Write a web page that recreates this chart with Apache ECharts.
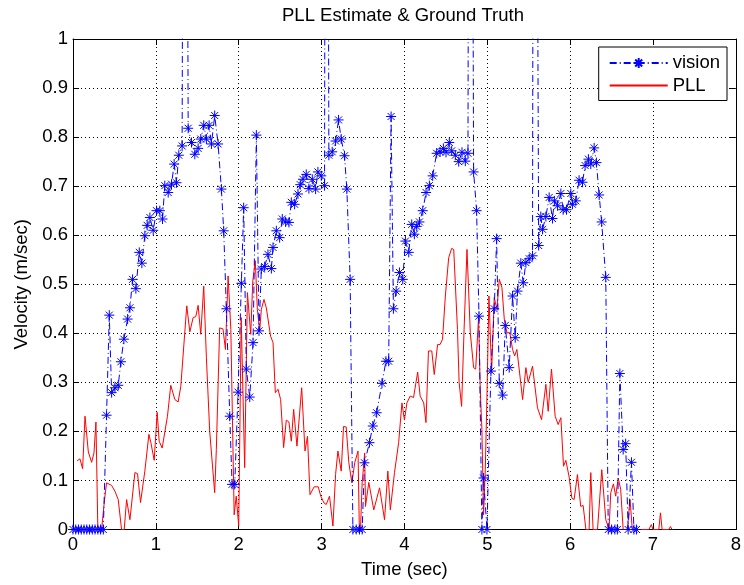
<!DOCTYPE html>
<html>
<head>
<meta charset="utf-8">
<script src="https://cdn.jsdelivr.net/npm/echarts@6/dist/echarts.min.js"></script>
<style>
html,body{margin:0;padding:0;background:#fff;}
#chart{width:744px;height:585px;}
</style>
</head>
<body>
<div id="chart"></div>
<script>
// ---- data ----
const titleText = 'PLL Estimate & Ground Truth';
const xName = 'Time (sec)';
const yName = 'Velocity (m/sec)';
const seriesNames = ['vision', 'PLL'];

// vision (ground truth), time in sec
const visT = [0.00,0.033,0.066,0.10,0.133,0.166,0.20,0.233,0.266,0.30,0.333,0.366,
  0.405,0.438,0.466,0.506,0.546,0.578,0.614,0.659,0.687,0.719,0.759,0.80,0.831,0.867,0.895,0.928,0.968,
  1.008,1.048,1.08,1.108,1.149,1.189,1.221,1.249,1.277,1.317,1.349,1.39,1.43,1.47,1.51,1.542,1.578,1.61,
  1.643,1.671,1.71,1.751,1.791,1.819,1.851,1.892,1.92,1.952,1.992,2.032,2.06,2.092,2.133,2.173,2.213,
  2.245,2.273,2.313,2.353,2.394,2.414,2.454,2.494,2.526,2.566,2.606,2.635,2.675,2.715,2.743,2.775,2.815,
  2.847,2.888,2.928,2.956,2.996,3.036,3.056,3.088,3.128,3.169,3.205,3.237,3.277,3.305,3.345,3.378,3.418,
  3.458,3.49,3.518,3.578,3.618,3.665,3.729,3.777,3.81,3.839,3.867,3.90,3.94,3.98,4.012,4.052,4.088,4.12,
  4.149,4.181,4.221,4.261,4.301,4.341,4.389,4.43,4.47,4.502,4.542,4.57,4.614,4.655,4.695,4.735,4.767,
  4.791,4.835,4.871,4.90,4.935,4.955,4.996,5.044,5.084,5.113,5.145,5.185,5.217,5.265,5.305,5.337,5.365,
  5.405,5.434,5.466,5.506,5.546,5.566,5.62,5.646,5.667,5.707,5.747,5.787,5.81,5.848,5.888,5.916,5.956,
  6.008,6.028,6.068,6.108,6.149,6.181,6.221,6.249,6.29,6.317,6.35,6.38,6.43,6.46,6.50,6.54,6.57,6.60,
  6.64,6.67,6.70,6.74,6.77,6.80];
const visV = [0,0,0,0,0,0,0,0,0,0,0,0,
  0.233,0.437,0.279,0.289,0.294,0.342,0.388,0.429,0.452,0.51,0.491,0.565,0.543,0.599,0.62,0.636,0.61,
  0.65,0.65,0.633,0.701,0.687,0.704,0.745,0.707,0.763,0.782,3.0,0.818,0.789,0.765,0.777,0.796,0.824,0.796,
  0.824,0.786,0.844,0.786,0.694,0.609,0.45,0.231,0.092,0.092,0.28,0.502,0.656,0.327,0.27,0.381,0.804,
  0.405,0.531,0.536,0.561,0.532,0.575,0.609,0.595,0.633,0.627,0.626,0.667,0.663,0.684,0.703,0.714,0.724,
  0.695,0.714,0.694,0.729,0.721,0.701,3.0,0.763,0.77,0.792,0.835,0.796,0.762,0.694,0.51,0,0,
  0,0,0.136,0.177,0.211,0.238,0.298,0.343,0.343,0.842,0.45,0.486,0.524,0.51,0.588,0.565,0.622,0.602,
  0.618,0.627,0.65,0.687,0.701,0.721,0.767,0.77,0.777,0.769,0.789,0.772,0.763,0.75,0.769,0.751,0.767,
  3.0,0.729,0.65,0.435,0,0.105,0,0.323,0.45,0.593,0.298,0.274,0.416,0.33,0.476,0.391,0.486,
  0.543,0.503,0.544,0.552,0.558,3.0,0.579,0.638,0.612,0.638,0.677,0.634,0.67,0.66,0.685,0.652,0.652,
  0.685,0.663,0.67,0.712,0.708,0.742,0.755,0.745,0.778,0.748,0.682,0.627,0.514,0,0,0,0,0.318,
  0.163,0.175,0,0.137,0,0];

// PLL estimate, time in sec
const pllT = [0.05,0.084,0.116,0.145,0.185,0.225,0.253,0.277,0.30,0.345,0.38,0.405,0.466,0.506,0.546,0.586,
  0.618,0.647,0.687,0.747,0.779,0.815,0.867,0.916,0.94,0.98,1.016,1.04,1.076,1.14,1.18,1.229,1.269,1.301,
  1.373,1.41,1.45,1.482,1.51,1.542,1.578,1.61,1.65,1.71,1.73,1.77,1.81,1.84,1.872,1.905,1.945,1.97,2.0,
  2.03,2.072,2.105,2.145,2.17,2.2,2.225,2.253,2.273,2.305,2.333,2.385,2.414,2.442,2.474,2.506,2.542,2.574,
  2.606,2.635,2.663,2.703,2.76,2.8,2.83,2.86,2.91,2.96,2.99,3.03,3.056,3.096,3.137,3.169,3.197,3.237,
  3.265,3.297,3.329,3.366,3.4,3.44,3.455,3.47,3.49,3.52,3.53,3.57,3.63,3.70,3.76,3.80,3.83,3.88,3.93,
  3.97,4.0,4.03,4.07,4.11,4.16,4.19,4.233,4.26,4.29,4.33,4.36,4.40,4.43,4.46,4.494,4.534,4.57,4.595,
  4.64,4.66,4.69,4.72,4.755,4.795,4.835,4.86,4.895,4.915,4.935,4.955,4.976,4.996,5.02,5.052,5.084,5.116,
  5.145,5.177,5.205,5.237,5.273,5.305,5.33,5.357,5.385,5.426,5.466,5.494,5.546,5.606,5.655,5.707,5.735,
  5.775,5.819,5.855,5.888,5.92,5.948,5.988,6.02,6.048,6.088,6.128,6.157,6.19,6.229,6.249,6.277,6.33,
  6.382,6.43,6.47,6.49,6.522,6.55,6.58,6.61,6.64,6.69,6.723,6.75,6.79,6.95,6.98,7.0,7.07,7.09,7.11,
  7.19,7.21,7.23];
const pllV = [0.14,0.144,0.124,0.231,0.158,0.137,0.156,0.219,0,0,0.06,0.095,0.09,0.078,0.061,0,
  0,0.061,0.02,0.116,0.114,0.055,0.119,0.194,0.177,0.141,0.239,0.18,0.166,0.231,0.294,0.265,0.26,0.292,
  0.456,0.403,0.432,0.434,0.457,0.398,0.496,0.35,0.2,0.075,0.163,0.411,0.409,0.367,0.517,0.408,0.03,0.068,0.007,
  0.432,0.126,0.483,0.398,0.507,0.548,0.449,0.405,0.449,0.469,0.452,0.394,0.381,0.279,0.286,0.265,0.167,0.223,
  0.219,0.18,0.245,0.17,0.289,0.16,0.19,0.071,0.087,0.087,0.068,0.054,0.051,0.068,0.007,0.112,0.16,0.119,
  0.21,0.209,0.136,0.095,0.136,0.16,0.007,0,0.095,0.156,0.047,0.096,0.04,0.085,0.02,0.119,0.04,0.116,0.177,
  0.258,0.223,0.258,0.272,0.269,0.321,0.272,0.258,0.218,0.364,0.364,0.316,0.377,0.377,0.388,0.476,0.554,0.573,0.571,
  0.408,0.3,0.251,0.408,0.571,0.401,0.33,0.327,0.432,0.286,0.204,0.03,0.122,0.272,0.476,0.32,0.473,0.449,
  0.51,0.493,0.429,0.401,0.401,0.367,0.354,0.367,0.327,0.265,0.33,0.3,0.333,0.248,0.224,0.296,0.241,
  0.327,0.231,0.214,0.228,0.129,0.141,0.107,0.064,0.061,0.112,0.047,0.049,0,0,0.116,0,0,
  0.122,0.02,0,0.075,0.093,0.068,0.105,0.082,0,0,0.061,0,0,0,0.01,0,0,0.034,0,
  0,0.006,0];

// ---- chart ----
const FONT = 'Liberation Sans, Arial, Helvetica, sans-serif';
const FS = 18.5;
const chart = echarts.init(document.getElementById('chart'), null, {renderer: 'canvas'});
const visData = visT.map((t, i) => [t, visV[i]]);
const pllData = pllT.map((t, i) => [t, pllV[i]]);
const asterisk = 'path://M0 5L10 5M5 0L5 10M1.5 1.5L8.5 8.5M8.5 1.5L1.5 8.5';

const baseAxis = {
  axisLine: {show: true, onZero: false, lineStyle: {color: '#000', width: 1}},
  axisTick: {show: true, inside: true, length: 6, lineStyle: {color: '#000'}},
  axisLabel: {color: '#000', fontSize: FS, fontFamily: FONT},
  splitLine: {show: false}
};

chart.setOption({
  animation: false,
  backgroundColor: '#fff',
  title: {
    text: titleText, left: 282, top: 6, padding: 0,
    textStyle: {fontSize: FS, fontWeight: 'normal', color: '#000', fontFamily: FONT}
  },
  grid: {left: 73, right: 8, top: 39, bottom: 55.5, containLabel: false},
  legend: {
    orient: 'vertical', right: 17, top: 47,
    padding: [6, 7, 5, 10], itemGap: 2.5, itemWidth: 58, itemHeight: 12.5,
    borderColor: '#000', borderWidth: 1, backgroundColor: '#fff',
    textStyle: {fontSize: FS, color: '#000', fontFamily: FONT, lineHeight: 20},
    data: seriesNames
  },
  xAxis: [
    Object.assign({}, baseAxis, {
      type: 'value', min: 0, max: 8, interval: 1, position: 'bottom',
      axisLabel: Object.assign({}, baseAxis.axisLabel, {margin: 6}),
      name: xName, nameLocation: 'middle', nameGap: 31,
      nameTextStyle: {fontSize: FS, color: '#000', fontFamily: FONT},
      splitLine: {show: true, lineStyle: {color: '#000', width: 1, type: [1, 3]}}
    }),
    Object.assign({}, baseAxis, {
      type: 'value', min: 0, max: 8, interval: 1, position: 'top',
      axisLabel: {show: false}
    })
  ],
  yAxis: [
    Object.assign({}, baseAxis, {
      type: 'value', min: 0, max: 1, interval: 0.1, position: 'left',
      axisLabel: Object.assign({}, baseAxis.axisLabel, {margin: 5}),
      name: yName, nameLocation: 'middle', nameGap: 40,
      nameTextStyle: {fontSize: FS, color: '#000', fontFamily: FONT},
      splitLine: {show: true, lineStyle: {color: '#000', width: 1, type: [1, 3]}}
    }),
    Object.assign({}, baseAxis, {
      type: 'value', min: 0, max: 1, interval: 0.1, position: 'right',
      axisLabel: {show: false}
    })
  ],
  series: [
    {
      name: seriesNames[0], type: 'line', data: visData,
      xAxisIndex: 0, yAxisIndex: 0, clip: true,
      symbol: asterisk, symbolSize: 10, showAllSymbol: true,
      lineStyle: {color: '#0000ff', width: 1, type: [7, 3, 1, 3]},
      itemStyle: {color: 'none', borderColor: '#0000ff', borderWidth: 1},
      emphasis: {disabled: true}, z: 3
    },
    {
      name: seriesNames[1], type: 'line', data: pllData,
      xAxisIndex: 0, yAxisIndex: 0, clip: true,
      symbol: 'circle', symbolSize: 0, showSymbol: false,
      lineStyle: {color: '#ff0000', width: 1},
      itemStyle: {color: 'rgba(0,0,0,0)', borderWidth: 0},
      emphasis: {disabled: true}, z: 2
    }
  ]
});
</script>
</body>
</html>
